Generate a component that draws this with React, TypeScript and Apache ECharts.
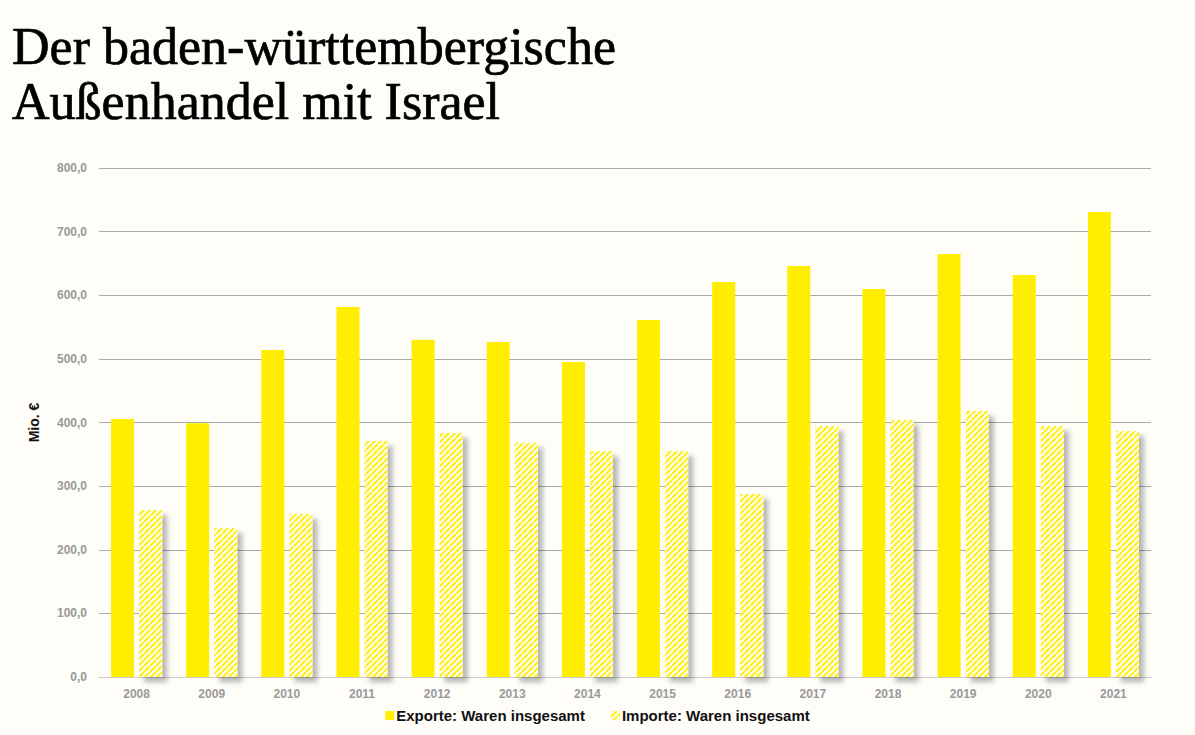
import React, { useEffect, useRef } from "react";
import * as echarts from "echarts";

const years = ["2008","2009","2010","2011","2012","2013","2014","2015","2016","2017","2018","2019","2020","2021"];
const exporte = [405.5, 399, 514, 581.5, 530, 526.5, 495, 561, 621, 646, 610, 665, 632, 731];
const importe = [262.5, 234, 256, 371, 383.5, 368, 355, 355, 287.5, 394.5, 404, 418, 394.5, 386.5];
const exportName = "Exporte: Waren insgesamt";
const importName = "Importe: Waren insgesamt";

function makeHatch(): HTMLCanvasElement {
  const c = document.createElement("canvas");
  c.width = 6;
  c.height = 6;
  const ctx = c.getContext("2d")!;
  ctx.fillStyle = "#FFFDF0";
  ctx.fillRect(0, 0, 6, 6);
  ctx.strokeStyle = "#FFEF1A";
  ctx.lineWidth = 2.2;
  ctx.beginPath();
  for (let k = -6; k <= 12; k += 6) {
    ctx.moveTo(k, 6);
    ctx.lineTo(k + 6, 0);
  }
  ctx.stroke();
  return c;
}

export default function App() {
  const ref = useRef<HTMLDivElement>(null);
  useEffect(() => {
    if (!ref.current) return;
    const chart = echarts.init(ref.current, undefined, { renderer: "svg" });
    const hatch = makeHatch();
    chart.setOption({
      animation: false,
      backgroundColor: "#FEFDF8",
      title: {
        text: "Der baden-württembergische\nAußenhandel mit Israel",
        left: 7,
        top: 14,
        textStyle: {
          fontFamily: "Liberation Serif",
          fontWeight: "normal",
          fontSize: 52,
          lineHeight: 55,
          color: "#000",
          textBorderColor: "#000",
          textBorderWidth: 0.7,
        },
      },
      legend: {
        bottom: 7,
        left: "center",
        itemWidth: 9,
        itemHeight: 9,
        itemGap: 26,
        icon: "rect",
        textStyle: {
          fontFamily: "Liberation Sans",
          fontWeight: "bold",
          fontSize: 15,
          color: "#111",
          padding: [0, 0, 0, -3],
        },
        data: [exportName, importName],
      },
      grid: { left: 99, right: 44, top: 168, bottom: 58 },
      xAxis: {
        type: "category",
        data: years,
        axisLine: { lineStyle: { color: "#ccc" } },
        axisTick: { show: false },
        axisLabel: {
          color: "#999",
          fontWeight: "bold",
          fontFamily: "Liberation Sans",
          fontSize: 12,
          margin: 11,
        },
      },
      yAxis: {
        type: "value",
        min: 0,
        max: 800,
        interval: 100,
        name: "Mio. €",
        nameLocation: "middle",
        nameGap: 58,
        nameTextStyle: {
          fontFamily: "Liberation Sans",
          fontWeight: "bold",
          fontSize: 14,
          color: "#111",
        },
        axisLine: { show: false },
        axisTick: { show: false },
        splitLine: { lineStyle: { color: "#aaa", width: 1 } },
        axisLabel: {
          color: "#999",
          fontWeight: "bold",
          fontFamily: "Liberation Sans",
          fontSize: 12,
          margin: 12,
          formatter: (v: number) => v.toFixed(1).replace(".", ","),
        },
      },
      series: [
        {
          name: exportName,
          type: "bar",
          data: exporte,
          barWidth: 23,
          barGap: "22%",
          itemStyle: { color: "#FFEE00" },
        },
        {
          name: importName,
          type: "bar",
          data: importe,
          barWidth: 23,
          itemStyle: {
            color: { image: hatch, repeat: "repeat" },
            shadowColor: "rgba(0,0,0,0.28)",
            shadowBlur: 5,
            shadowOffsetX: 5,
            shadowOffsetY: 5,
          },
        },
      ],
    });
    return () => chart.dispose();
  }, []);
  return (
    <div
      ref={ref}
      style={{ position: "absolute", left: 0, top: 0, width: 1195, height: 735 }}
    />
  );
}
